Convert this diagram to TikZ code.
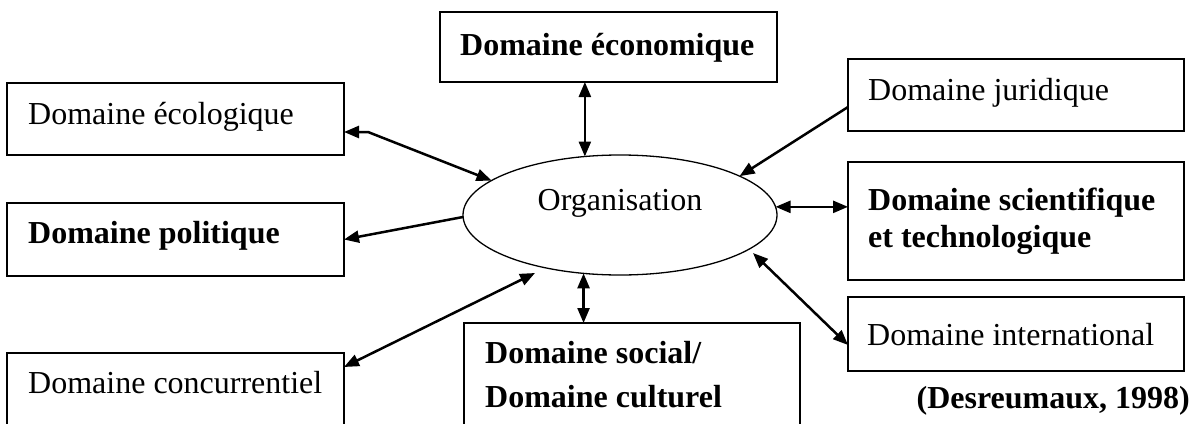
\documentclass[tikz,border=0pt]{standalone}
\usepackage{fontspec}
\setmainfont{Liberation Serif}
\usetikzlibrary{arrows.meta,shapes.geometric,calc}

\begin{document}
\begin{tikzpicture}[x=1pt,y=-1pt,
  box/.style={draw,line width=1.5pt,anchor=north west,inner sep=0pt,outer sep=0pt},
  lbl/.style={anchor=base west,inner sep=0pt,font={\fontsize{32}{40}\selectfont}},
  blbl/.style={anchor=base west,inner sep=0pt,font={\fontsize{32}{40}\selectfont\bfseries}},
  link/.style={line width=2.5pt},
  onetip/.style={-{Triangle[length=15pt,width=12pt]}},
  twotips/.style={{Triangle[length=15pt,width=12pt]}-{Triangle[length=15pt,width=12pt]}}
]
\useasboundingbox (0,0) rectangle (1198,423);
\clip (0,0) rectangle (1198,423);

% central ellipse
\node[draw,ellipse,line width=1.3pt,minimum width=314pt,minimum height=120pt,
      inner sep=0pt,outer sep=0pt] (org) at (620,215) {};
\node[anchor=base,inner sep=0pt,font={\fontsize{32}{40}\selectfont}] (orgt) at (620,210) {Organisation};

% surrounding domains
\node[box,minimum width=337pt,minimum height=70pt] (eco) at (440,12) {};
\node[blbl] (ecot) at (460,55) {Domaine économique};

\node[box,minimum width=337pt,minimum height=72pt] (ecol) at (7,83) {};
\node[lbl] (ecolt) at (28,124) {Domaine écologique};

\node[box,minimum width=337pt,minimum height=73pt] (pol) at (7,203) {};
\node[blbl] (polt) at (28,243) {Domaine politique};

\node[box,minimum width=337pt,minimum height=110pt] (conc) at (7,353) {};
\node[lbl] (conct) at (28,393) {Domaine concurrentiel};

\node[box,minimum width=336pt,minimum height=150pt] (soc) at (464,323) {};
\node[blbl] (soct1) at (485,363) {Domaine social/};
\node[blbl] (soct2) at (485,407) {Domaine culturel};

\node[box,minimum width=336pt,minimum height=72pt] (jur) at (848,59) {};
\node[lbl] (jurt) at (868,100) {Domaine juridique};

\node[box,minimum width=336pt,minimum height=118pt] (sci) at (848,162) {};
\node[blbl] (scit1) at (868,210) {Domaine scientifique};
\node[blbl] (scit2) at (868,247) {et technologique};

\node[box,minimum width=336pt,minimum height=74pt] (intl) at (848,297) {};
\node[lbl] (intlt) at (867,345) {Domaine international};

\node[anchor=base east,inner sep=0pt,font={\fontsize{32}{40}\selectfont\bfseries}] (src) at (1190,408) {(Desreumaux, 1998)};

% connectors
\draw[link,twotips] (eco.south -| org.121.7) -- (org.121.7);
\draw[link,twotips] ($(ecol.east)+(0,13)$) -- ++(24,0) -- (org.165);
\draw[link,onetip] ($(org.west)+(0,2)$) -- (pol.east);
\draw[link,twotips] ($(org.center)+(-85,58)$) -- ($(conc.north east)+(0,14)$);
\draw[link,twotips] (org.238.3) -- (soc.north -| org.238.3);
\draw[link,onetip] ($(jur.west)+(0,12)$) -- (org.18.6);
\draw[link,twotips] (org.3.7) -- (sci.west |- org.3.7);
\draw[link,twotips] ($(org.center)+(133,38)$) -- ($(intl.west)+(0,11)$);
\end{tikzpicture}
\end{document}
